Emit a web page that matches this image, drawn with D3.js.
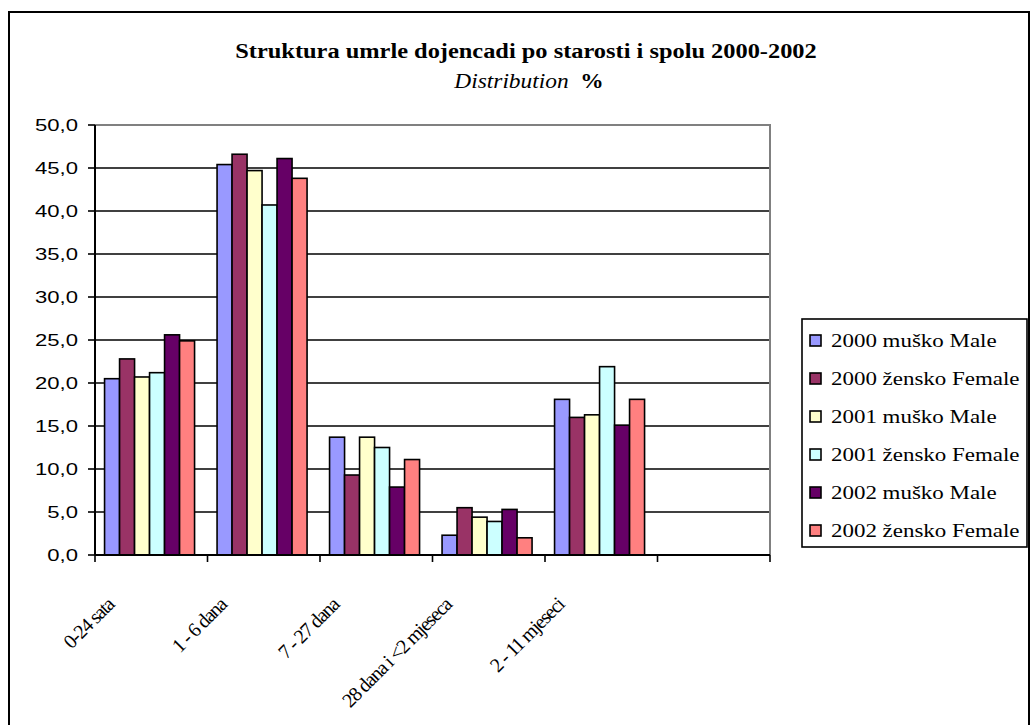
<!DOCTYPE html>
<html>
<head>
<meta charset="utf-8">
<script src="https://cdn.jsdelivr.net/npm/d3@7"></script>
<style>
  html, body { margin: 0; padding: 0; background: #fff; }
  svg { display: block; }
</style>
</head>
<body>
<svg id="chart" width="1031" height="725"></svg>
<script>
// Podaci
const categories = ["0-24 sata", "1 - 6 dana", "7 - 27 dana", "28 dana i <2 mjeseca", "2 - 11 mjeseci"];
const seriesNames = ["2000 muško Male", "2000 žensko Female", "2001 muško Male",
                     "2001 žensko Female", "2002 muško Male", "2002 žensko Female"];
const m2000 = [20.5, 45.4, 13.7, 2.3, 18.1];
const f2000 = [22.8, 46.6, 9.3, 5.5, 16.0];
const m2001 = [20.7, 44.7, 13.7, 4.4, 16.3];
const f2001 = [21.2, 40.7, 12.5, 3.9, 21.9];
const m2002 = [25.6, 46.1, 7.9, 5.3, 15.1];
const f2002 = [24.9, 43.8, 11.1, 2.0, 18.1];
const yTicks = [0, 5, 10, 15, 20, 25, 30, 35, 40, 45, 50];

const seriesValues = [m2000, f2000, m2001, f2001, m2002, f2002];
const colors = ["#9999FF", "#993366", "#FFFFCC", "#CCFFFF", "#660066", "#FF8080"];

const serif = "'Liberation Serif', 'Times New Roman', serif";

const svg = d3.select("#chart");

// Okvir
svg.append("rect")
    .attr("x", 9).attr("y", 12)
    .attr("width", 1020).attr("height", 740)
    .attr("fill", "#fff")
    .attr("stroke", "#000")
    .attr("stroke-width", 2);

// Naslov
svg.append("text")
    .attr("transform", "translate(526,58) scale(1.22,1)")
    .attr("text-anchor", "middle")
    .attr("font-family", serif)
    .attr("font-weight", "bold")
    .attr("font-size", "20px")
    .text("Struktura umrle dojencadi po starosti i spolu 2000-2002");

const sub = svg.append("text")
    .attr("transform", "translate(529,88) scale(1.17,1)")
    .attr("text-anchor", "middle")
    .attr("font-family", serif)
    .attr("font-size", "20px");
sub.append("tspan").attr("font-style", "italic").text("Distribution ");
sub.append("tspan").attr("font-weight", "bold").attr("dx", 5).text("%");

// Podrucje grafa
const pLeft = 95, pRight = 770, pTop = 125, pBottom = 555;

const x0 = d3.scaleBand()
    .domain([...categories, " "])
    .range([pLeft, pRight])
    .padding(0);

const x1 = d3.scaleBand()
    .domain(seriesNames)
    .range([x0.bandwidth() * 0.085, x0.bandwidth() * 0.885])
    .padding(0);

const y = d3.scaleLinear()
    .domain([0, 50])
    .range([pBottom, pTop]);

// Mreza
svg.append("g")
    .selectAll("line")
    .data(yTicks.filter(d => d > 0 && d < 50))
    .enter()
    .append("line")
    .attr("x1", pLeft).attr("x2", pRight)
    .attr("y1", d => y(d)).attr("y2", d => y(d))
    .attr("stroke", "#000")
    .attr("stroke-width", 1.6);

// Rub podrucja (sivo)
svg.append("path")
    .attr("d", `M${pLeft},${y(50)}H${pRight}V${y(0)}`)
    .attr("fill", "none")
    .attr("stroke", "#808080")
    .attr("stroke-width", 2);

// Stupci
const rows = categories.map((c, i) => ({
    cat: c,
    vals: seriesNames.map((s, j) => ({ s, j, v: seriesValues[j][i] }))
}));

const groups = svg.append("g")
    .selectAll("g")
    .data(rows)
    .enter()
    .append("g")
    .attr("transform", d => `translate(${x0(d.cat)},0)`);

groups.selectAll("rect")
    .data(d => d.vals)
    .enter()
    .append("rect")
    .attr("x", d => x1(d.s))
    .attr("y", d => y(d.v))
    .attr("width", x1.bandwidth())
    .attr("height", d => y(0) - y(d.v))
    .attr("fill", d => colors[d.j])
    .attr("stroke", "#000")
    .attr("stroke-width", 1.6);

// Os Y
const yAxis = svg.append("g");
yAxis.append("line")
    .attr("x1", pLeft).attr("x2", pLeft)
    .attr("y1", y(50)).attr("y2", y(0))
    .attr("stroke", "#000").attr("stroke-width", 2);
yAxis.selectAll(".tick")
    .data(yTicks)
    .enter()
    .append("line")
    .attr("x1", pLeft - 7).attr("x2", pLeft)
    .attr("y1", d => y(d)).attr("y2", d => y(d))
    .attr("stroke", "#000").attr("stroke-width", 1.6);
yAxis.selectAll(".ylab")
    .data(yTicks)
    .enter()
    .append("text")
    .attr("class", "ylab")
    .attr("transform", d => `translate(78,${y(d) + 6}) scale(1.3,1)`)
    .attr("text-anchor", "end")
    .attr("font-family", "'Liberation Sans', Arial, sans-serif")
    .attr("font-size", "17px")
    .text(d => d3.format(".1f")(d).replace(".", ","));

// Os X
const xAxis = svg.append("g");
xAxis.append("line")
    .attr("x1", pLeft).attr("x2", pRight)
    .attr("y1", y(0)).attr("y2", y(0))
    .attr("stroke", "#000").attr("stroke-width", 2);
xAxis.selectAll(".tick")
    .data([...x0.domain().map(d => x0(d)), pRight])
    .enter()
    .append("line")
    .attr("x1", d => d).attr("x2", d => d)
    .attr("y1", y(0)).attr("y2", y(0) + 7)
    .attr("stroke", "#000").attr("stroke-width", 1.6);
xAxis.selectAll(".xlab")
    .data(categories)
    .enter()
    .append("text")
    .attr("class", "xlab")
    .attr("transform", d => `translate(${x0(d) + x0.bandwidth() / 2 - 36},606) rotate(-45)`)
    .attr("text-anchor", "end")
    .attr("font-family", serif)
    .attr("font-size", "20px")
    .attr("letter-spacing", "-1.2px")
    .text(d => d);

// Legenda
const legend = svg.append("g");
legend.append("rect")
    .attr("x", 802).attr("y", 319)
    .attr("width", 225).attr("height", 228)
    .attr("fill", "#fff")
    .attr("stroke", "#000")
    .attr("stroke-width", 1.6);

const legY = d3.scalePoint()
    .domain(seriesNames)
    .range([340, 530]);

const items = legend.selectAll(".item")
    .data(seriesNames)
    .enter()
    .append("g")
    .attr("class", "item")
    .attr("transform", d => `translate(0,${legY(d)})`);

items.append("rect")
    .attr("x", 810).attr("y", -5)
    .attr("width", 11).attr("height", 11)
    .attr("fill", (d, i) => colors[i])
    .attr("stroke", "#000")
    .attr("stroke-width", 1.6);

items.append("text")
    .attr("transform", "translate(831,7) scale(1.22,1)")
    .attr("font-family", serif)
    .attr("font-size", "18.8px")
    .text(d => d);
</script>
</body>
</html>
